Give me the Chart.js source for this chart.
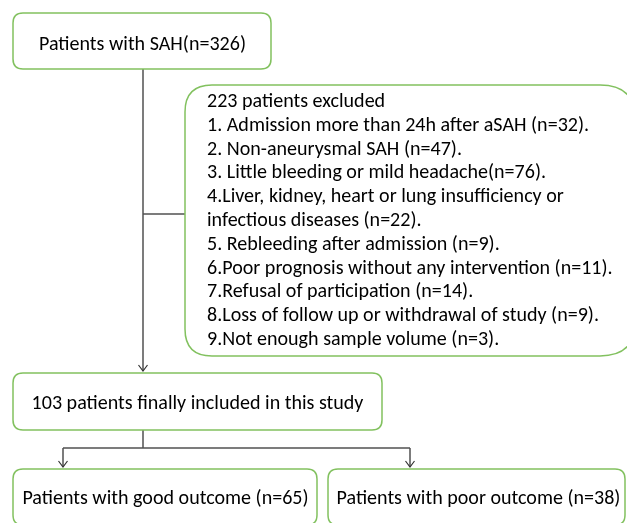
<!DOCTYPE html>
<html>
<head>
<meta charset="utf-8">
<script src="https://cdn.jsdelivr.net/npm/chart.js@4/dist/chart.umd.min.js"></script>
<style>
html,body{margin:0;padding:0;background:#fff;}
#wrap{width:627px;height:523px;}
</style>
</head>
<body>
<div id="wrap"><canvas id="c" width="627" height="523"></canvas></div>
<script>
// ---- data (text content of the flowchart) ----
const nodeLabels = [
  "Patients with SAH(n=326)",
  "103 patients finally included in this study",
  "Patients with good outcome (n=65)",
  "Patients with poor outcome (n=38)"
];
const exclusionTitle = "223 patients excluded";
const exclusionReasons = [
  "1. Admission more than 24h after aSAH (n=32).",
  "2. Non-aneurysmal SAH (n=47).",
  "3. Little bleeding or mild headache(n=76).",
  "4.Liver, kidney, heart or lung insufficiency or",
  "infectious diseases (n=22).",
  "5. Rebleeding after admission (n=9).",
  "6.Poor prognosis without any intervention (n=11).",
  "7.Refusal of participation (n=14).",
  "8.Loss of follow up or withdrawal of study (n=9).",
  "9.Not enough sample volume (n=3)."
];

// ---- layout (in chart units; x 0..627, y 0..523 top-down) ----
const layout = {
  boxes: [
    {x0:13, y0:13, x1:271, y1:69, r:10, tx:142.5, ty:49.5},
    {x0:13, y0:373, x1:382, y1:430, r:10, tx:197.5, ty:409},
    {x0:13, y0:469, x1:317, y1:525, r:10, tx:165.5, ty:504},
    {x0:328, y0:469, x1:625, y1:525, r:10, tx:478.5, ty:504}
  ],
  excl: {x0:185, y0:85, x1:636, y1:356, rl:27, rr:36, tx:207, ty0:107, dy:23.8},
  lines: [
    [[143,69],[143,371]],
    [[143,214],[185,214]],
    [[143,430],[143,448]],
    [[63,448],[410,448]],
    [[63,448],[63,467]],
    [[410,448],[410,467]]
  ],
  arrows: [[143,371],[63,467],[410,467]]
};
const green = "#82c15f";
const lineCol = "#505050";
const textCol = "#000";
const fontFamily = "Carlito, Lato, 'Open Sans', sans-serif";
const fontSize = 19.6;

const flowPlugin = {
  id: 'flow',
  afterDraw(chart) {
    const ctx = chart.ctx, xs = chart.scales.x, ys = chart.scales.y;
    const X = v => xs.getPixelForValue(v), Y = v => ys.getPixelForValue(v);
    ctx.save();
    const font = fontSize + "px " + fontFamily;
    ctx.font = font;
    // horizontal condensing so first label spans ~207px (Calibri-like width)
    const sx = 207 / ctx.measureText(nodeLabels[0]).width;

    function text(t, x, y, align) {
      ctx.save();
      ctx.font = font; ctx.fillStyle = textCol;
      ctx.textAlign = align; ctx.textBaseline = "alphabetic";
      ctx.translate(x, y); ctx.scale(sx, 1);
      ctx.fillText(t, 0, 0);
      ctx.restore();
    }
    function rrect(x0,y0,x1,y1,rtl,rtr,rbr,rbl){
      ctx.beginPath();
      ctx.moveTo(x0+rtl,y0);
      ctx.lineTo(x1-rtr,y0);
      ctx.quadraticCurveTo(x1,y0,x1,y0+rtr);
      ctx.lineTo(x1,y1-rbr);
      ctx.quadraticCurveTo(x1,y1,x1-rbr,y1);
      ctx.lineTo(x0+rbl,y1);
      ctx.quadraticCurveTo(x0,y1,x0,y1-rbl);
      ctx.lineTo(x0,y0+rtl);
      ctx.quadraticCurveTo(x0,y0,x0+rtl,y0);
      ctx.closePath();
    }
    // connectors
    ctx.strokeStyle = lineCol; ctx.lineWidth = 1.5;
    layout.lines.forEach(l => {
      ctx.beginPath();
      ctx.moveTo(X(l[0][0]), Y(l[0][1]));
      ctx.lineTo(X(l[1][0]), Y(l[1][1]));
      ctx.stroke();
    });
    ctx.lineWidth = 1.2; ctx.strokeStyle = "#333";
    layout.arrows.forEach(a => {
      const px = X(a[0]), py = Y(a[1]);
      ctx.beginPath();
      ctx.moveTo(px-4.5, py-6); ctx.lineTo(px, py); ctx.lineTo(px+4.5, py-6);
      ctx.stroke();
    });
    // boxes
    ctx.strokeStyle = green; ctx.lineWidth = 1.5;
    layout.boxes.forEach((b,i) => {
      rrect(X(b.x0),Y(b.y0),X(b.x1),Y(b.y1),b.r,b.r,b.r,b.r);
      ctx.fillStyle = "#fff"; ctx.fill(); ctx.stroke();
      text(nodeLabels[i], X(b.tx), Y(b.ty), "center");
    });
    const e = layout.excl;
    rrect(X(e.x0),Y(e.y0),X(e.x1),Y(e.y1),e.rl,e.rr,e.rr,e.rl);
    ctx.fillStyle = "#fff"; ctx.fill(); ctx.stroke();
    [exclusionTitle].concat(exclusionReasons).forEach((t,i) => {
      text(t, X(e.tx), Y(e.ty0 + i*e.dy), "left");
    });
    ctx.restore();
  }
};

new Chart(document.getElementById('c'), {
  type: 'scatter',
  data: { datasets: [{ data: [], pointRadius: 0 }] },
  options: {
    responsive: false,
    animation: false,
    layout: { padding: 0 },
    plugins: { legend: { display: false }, tooltip: { enabled: false } },
    scales: {
      x: { type: 'linear', min: 0, max: 627, display: false },
      y: { type: 'linear', min: 0, max: 523, reverse: true, display: false }
    }
  },
  plugins: [flowPlugin]
});
</script>
</body>
</html>
